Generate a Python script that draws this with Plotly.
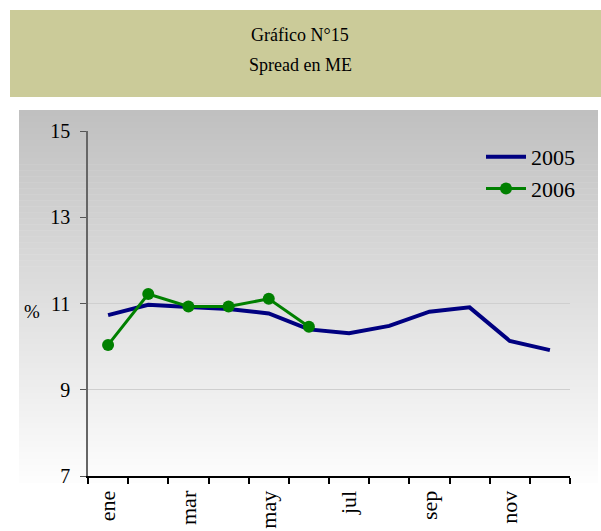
import plotly.graph_objects as go

months = ['ene', 'feb', 'mar', 'abr', 'may', 'jun', 'jul', 'ago', 'sep', 'oct', 'nov', 'dic']
month_labels = ['ene', '', 'mar', '', 'may', '', 'jul', '', 'sep', '', 'nov', '']
spread_2005 = [10.73, 10.97, 10.92, 10.87, 10.77, 10.40, 10.31, 10.48, 10.81, 10.91, 10.13, 9.92]
spread_2006 = [10.04, 11.22, 10.93, 10.93, 11.11, 10.46]
y_ticks = [7, 9, 11, 13, 15]

W, H = 601, 531
L, R, T, B = 88, 570, 131, 476   # plot area in pixels
SERIF = 'Liberation Serif'


def px(x):
    return (x - L) / (R - L)


def py(y):
    return (B - y) / (B - T)


fig = go.Figure()
fig.add_trace(go.Scatter(x=months, y=spread_2005, name='2005', mode='lines',
                         line=dict(color='#000080', width=4)))
fig.add_trace(go.Scatter(x=months[:len(spread_2006)], y=spread_2006, name='2006',
                         mode='lines+markers', line=dict(color='#008000', width=3),
                         marker=dict(color='#008000', size=12)))

shapes = []
# title box
shapes.append(dict(type='rect', xref='paper', yref='paper', layer='below',
                   x0=px(10), x1=px(601), y0=py(97), y1=py(10),
                   fillcolor='#CBCB99', line=dict(width=0)))
# gradient chart area, built from thin strips
top, bot, n = 110, 531, 70
for i in range(n):
    y0 = top + (bot - top) * i / n
    y1 = top + (bot - top) * (i + 1) / n + 0.5
    f = min(1.0, (i + 0.5) / n * 1.12)
    c = int(192 + (255 - 192) * f)
    shapes.append(dict(type='rect', xref='paper', yref='paper', layer='below',
                       x0=px(19), x1=px(598), y0=py(y1), y1=py(y0),
                       fillcolor=f'rgb({c},{c},{c})', line=dict(width=0)))

annotations = [
    dict(text='Gráfico N°15', x=px(300), y=py(23), xref='paper', yref='paper',
         showarrow=False, font=dict(family=SERIF, size=18, color='black')),
    dict(text='Spread en ME', x=px(300), y=py(53), xref='paper', yref='paper',
         showarrow=False, font=dict(family=SERIF, size=18, color='black')),
    dict(text='%', x=px(22), y=py(311), xref='paper', yref='paper',
         showarrow=False, font=dict(family=SERIF, size=19, color='black')),
]

fig.update_layout(
    width=W, height=H,
    margin=dict(l=L, r=W - R, t=T, b=H - B),
    paper_bgcolor='white', plot_bgcolor='rgba(0,0,0,0)',
    shapes=shapes, annotations=annotations,
    font=dict(family=SERIF, color='black'),
    legend=dict(x=px(580), y=py(136), xanchor='right', yanchor='top',
                bgcolor='rgba(0,0,0,0)', font=dict(family=SERIF, size=22),
                tracegroupgap=0, itemwidth=40),
    showlegend=True,
)
fig.update_xaxes(type='category', tickvals=months, ticktext=month_labels,
                 tickson='boundaries', ticks='outside', ticklen=6, tickwidth=2,
                 tickcolor='black', tickangle=-90, showline=True, linecolor='black',
                 linewidth=2, showgrid=False, tickfont=dict(family=SERIF, size=22),
                 ticklabelstandoff=4, range=[-0.5, 11.5], automargin=False)
fig.update_yaxes(range=[7, 15], tickvals=y_ticks, ticks='outside', ticklen=6,
                 tickcolor='#555555', showline=True, linecolor='#666666', linewidth=1.5,
                 showgrid=True, gridcolor='#CFCFCF', gridwidth=1, zeroline=False,
                 tickfont=dict(family=SERIF, size=20), ticklabelstandoff=6,
                 automargin=False)

# drop the page's default body margin so the figure sits at the window origin
fig.write_html('out.html', config={'displayModeBar': False},
               post_script="document.body.style.margin='0';")
